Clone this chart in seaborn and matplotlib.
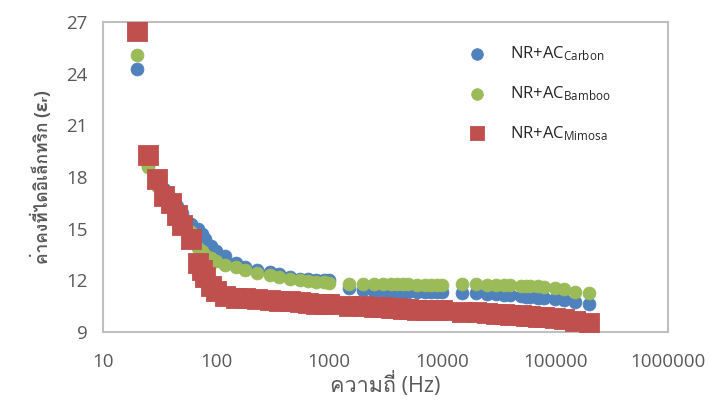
import matplotlib
matplotlib.use("Agg")
import numpy as np
import pandas as pd
import matplotlib.pyplot as plt
import seaborn as sns
from matplotlib import font_manager
from matplotlib.ft2font import FT2Font

# ==========================================
# ข้อมูลที่อ่านจากกราฟ (ความถี่ Hz / ค่าคงที่ไดอิเล็กทริก)
# ==========================================
freq = [20, 25, 30, 35, 40, 45, 50, 60, 70, 75, 80, 90,
        100, 120, 150, 180, 230, 300, 360, 450, 550, 650, 770, 900, 1000,
        1500, 2000, 2500, 3000, 3500, 4000, 4500, 5000, 6000, 7000, 8000, 9000, 10000,
        15000, 20000, 25000, 30000, 35000, 40000, 50000, 55000, 60000, 70000, 80000,
        100000, 120000, 150000, 200000]

eps_carbon = [24.3, 18.7, 17.7, 17.3, 16.8, 16.3, 15.9, 15.3, 15.0, 14.7, 14.4, 14.0,
              13.7, 13.4, 13.0, 12.8, 12.6, 12.5, 12.35, 12.2, 12.1, 12.05, 12.0, 12.0, 12.0,
              11.55, 11.45, 11.4, 11.4, 11.35, 11.35, 11.35, 11.3, 11.3, 11.3, 11.3, 11.3, 11.3,
              11.25, 11.25, 11.2, 11.2, 11.15, 11.15, 11.1, 11.05, 11.05, 11.0, 10.95,
              10.9, 10.85, 10.75, 10.65]

eps_bamboo = [25.1, 18.6, 17.5, 17.0, 16.5, 16.0, 15.5, 14.8, 13.9, 13.7, 13.5, 13.3,
              13.1, 12.9, 12.75, 12.6, 12.45, 12.3, 12.2, 12.1, 12.0, 11.95, 11.9, 11.9, 11.85,
              11.8, 11.8, 11.8, 11.8, 11.8, 11.8, 11.8, 11.8, 11.75, 11.75, 11.75, 11.75, 11.75,
              11.8, 11.8, 11.75, 11.75, 11.75, 11.75, 11.7, 11.7, 11.7, 11.65, 11.6,
              11.55, 11.5, 11.35, 11.25]

eps_mimosa = [26.5, 19.3, 17.9, 16.9, 16.5, 15.8, 15.2, 14.4, 13.0, 12.6, 12.2, 11.7,
              11.4, 11.1, 11.0, 10.95, 10.9, 10.85, 10.8, 10.8, 10.75, 10.7, 10.65, 10.65, 10.6,
              10.5, 10.5, 10.45, 10.45, 10.4, 10.4, 10.35, 10.35, 10.3, 10.3, 10.3, 10.25, 10.25,
              10.15, 10.15, 10.1, 10.05, 10.05, 10.0, 10.0, 9.95, 9.95, 9.9, 9.85,
              9.8, 9.75, 9.65, 9.55]

series_labels = ["NR+AC$_{\\mathrm{Carbon}}$",
                 "NR+AC$_{\\mathrm{Bamboo}}$",
                 "NR+AC$_{\\mathrm{Mimosa}}$"]
x_ticks = [10, 100, 1000, 10000, 100000, 1000000]
x_tick_labels = ["10", "100", "1000", "10000", "100000", "1000000"]
y_ticks = [9, 12, 15, 18, 21, 24, 27]
x_title = "ความถี่ (Hz)"
# ไม่ใช้ mathtext ที่นี่ เพราะ mathtext ไม่ fallback ไปหาฟอนต์ไทย
y_title = "ค่าคงที่ไดอิเล็กทริก (εᵣ)"


def find_thai_font():
    # หาฟอนต์ที่มีอักษรไทยในเครื่อง (ถ้ามี)
    for f in font_manager.fontManager.ttflist:
        try:
            cmap = FT2Font(f.fname).get_charmap()
        except Exception:
            continue
        if ord("ค") in cmap and ord("ไ") in cmap:
            return f.name
    return None


sns.set_theme(style="white")
thai = find_thai_font()
families = ["Open Sans", "DejaVu Sans"]
if thai:
    families = ["Open Sans", thai, "DejaVu Sans"]
plt.rcParams["font.family"] = families
plt.rcParams["mathtext.fontset"] = "custom"
plt.rcParams["mathtext.rm"] = "Open Sans"
plt.rcParams["mathtext.it"] = "Open Sans:italic"

blue = "#4F81BD"
green = "#9BBB59"
red = "#C0504D"
grey_line = "#BFBFBF"
grey_text = "#595959"

df = pd.DataFrame({
    "freq": freq * 3,
    "eps": eps_carbon + eps_bamboo + eps_mimosa,
    "series": [series_labels[0]] * len(freq) + [series_labels[1]] * len(freq)
              + [series_labels[2]] * len(freq),
})

fig = plt.figure(figsize=(7.1, 4.0), dpi=100)
ax = fig.add_axes([0.145, 0.17, 0.796, 0.775])

styles = [(blue, "o", 85), (green, "o", 85), (red, "s", 200)]
for lab, (col, mk, sz) in zip(series_labels, styles):
    sub = df[df["series"] == lab]
    sns.scatterplot(data=sub, x="freq", y="eps", ax=ax, color=col, marker=mk,
                    s=sz, edgecolor=col, linewidth=0.6, label=lab, zorder=3)

ax.set_xscale("log")
ax.set_xlim(10, 1000000)
ax.set_ylim(9, 27)
ax.set_xticks(x_ticks)
ax.set_xticklabels(x_tick_labels)
ax.set_yticks(y_ticks)
ax.xaxis.set_minor_locator(matplotlib.ticker.NullLocator())

for sp in ax.spines.values():
    sp.set_visible(True)
    sp.set_color(grey_line)
    sp.set_linewidth(1.5)
ax.tick_params(axis="both", which="major", direction="out", length=5, width=1.2,
               color=grey_line, labelcolor=grey_text, labelsize=13.5, pad=6)
ax.tick_params(axis="x", pad=10)

ax.set_xlabel(x_title, fontsize=15.5, color=grey_text, labelpad=1)
ax.set_ylabel(y_title, fontsize=12.5, color=grey_text, fontweight="bold", labelpad=10)

leg = ax.legend(loc="upper left", bbox_to_anchor=(0.605, 0.975), frameon=False,
                fontsize=12, labelspacing=1.25, handletextpad=1.0)
for h, s in zip(leg.legend_handles, [70, 70, 110]):
    h.set_sizes([s])
for t in leg.get_texts():
    t.set_color("#262626")

fig.savefig("out.png", dpi=100)
